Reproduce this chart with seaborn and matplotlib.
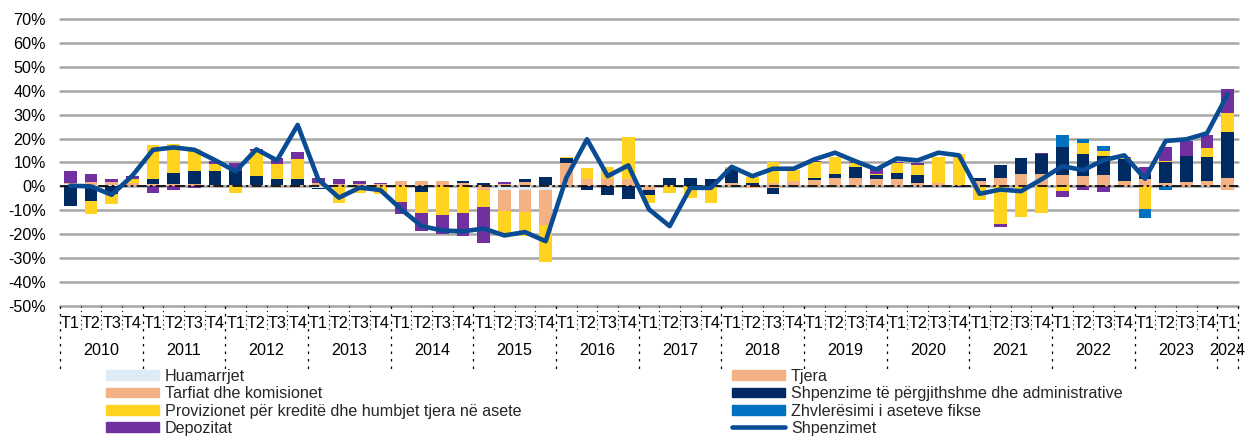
import numpy as np
import pandas as pd
import matplotlib
matplotlib.use("Agg")
import matplotlib.pyplot as plt
import seaborn as sns
from matplotlib.patches import Patch
from matplotlib.lines import Line2D

sns.set_theme(style="white")
plt.rcParams["font.family"] = ["Liberation Sans", "DejaVu Sans"]
plt.rcParams["axes.unicode_minus"] = False

years = ["2010", "2011", "2012", "2013", "2014", "2015", "2016", "2017",
         "2018", "2019", "2020", "2021", "2022", "2023", "2024"]
quarters = ["T1", "T2", "T3", "T4"]

# contributions (percentage points), 2010 T1 ... 2024 T1
huamarrjet = [1.2, 0.5, 0.8, 0, 0, 0, 0, 0, 0, 0, 0, 0,
              -0.5, 0, 0, 0, 0, 0, 0, 0, 0, -1.3, -1.3, -1.3,
              0, 0, 0, 0, 0, 0, 0, 0, 0, 0, 0, 0,
              0, 0, 0, 0, 0, 0, 0, 0, 0, 0, 0, 0,
              0, 0, 0, 0, 0, 0, 0, 0, 0]
tjera = [0.3, 1.5, 1.0, 1.4, 1.0, 1.0, 1.2, 0.8, 0.6, 0.8, 0.6, 0.5,
         1.5, 1.2, 1.2, 1.0, 2.4, 2.2, 2.2, 1.5, 0.8, 1.0, 2.0, 0.8,
         9.7, 3.2, 3.2, 3.2, 0.0, 0.4, 0.3, 0.3, 1.5, 0.8, 1.3, 2.2,
         2.5, 3.6, 3.6, 3.2, 2.9, 1.5, 1.3, 0.4, 2.2, 3.6, 5.0, 5.3,
         4.6, 4.3, 4.6, 2.2, 3.2, 1.5, 1.8, 2.2, 3.6]
tarifat = [0, 0, 0, 0, 0, 0, 0, 0, 0, 0, 0, 0,
           0, 0, 0, 0, 0, 0, 0, 0, -1.5, -9.0, -9.4, -14.9,
           0, 0, 0, 0, -1.5, 0, 0, 0, 0, -0.6, -0.5, 0,
           0, 0, 0, 0, 0, 0, 0, 0, 0, 0, 0, 0,
           0, 0, 0, 0, 0, 0, 0, 0, -1.5]
administrative = [-8.0, -5.9, -3.0, 0, 2.1, 4.6, 5.2, 5.5, 5.7, 3.5, 2.7, 2.8,
                  -0.5, 0, 0, 0, 0, -2.3, 0, 0.8, 0.6, 0, 1.0, 3.2,
                  2.1, -1.5, -3.6, -5.4, -2.1, 3.2, 3.3, 2.6, 5.6, 0.7, -2.8, 0,
                  1.1, 1.7, 4.6, 1.4, 2.8, 3.1, 0, -0.4, 1.4, 5.2, 6.7, 8.2,
                  12.0, 9.1, 8.1, 9.1, 1.4, 8.7, 10.9, 10.1, 19.1]
provizionet = [0, -5.5, -4.2, 1.8, 14.1, 12.1, 9.4, 3.0, -2.7, 10.5, 5.9, 8.0,
               0, -6.8, -2.6, -3.0, -6.6, -9.0, -12.0, -11.3, -7.3, -10.5, -10.1, -15.5,
               0.4, 4.3, 4.9, 17.3, -3.5, -2.6, -4.7, -7.1, 1.1, 2.5, 8.9, 4.6,
               6.7, 7.0, 1.4, 0.7, 3.9, 4.3, 11.1, 13.1, -5.7, -15.9, -12.7, -11.3,
               -2.0, 4.6, 2.3, 0.6, -9.6, 0.4, 0, 3.9, 8.1]
zhvleresimi = [0, 0, 0, 0, 0, 0, 0, 0, 0, 0, 0, 0,
               0, 0, 0, 0, 0, 0, 0, 0, 0, 0, 0, 0,
               0, 0, 0, 0, 0, 0, 0, 0, 0, 0, 0, 0,
               0, 0, 0, 0, 0, 0, 0, 0, 0, 0, 0, 0,
               4.7, 2.0, 1.9, 0, -3.6, -1.5, 0, 0, 0]
depozitat = [4.9, 3.3, 1.4, 1.0, -2.7, -1.7, -0.5, 1.2, 3.5, 1.0, 2.8, 3.2,
             2.1, 1.7, 1.2, 0.3, -5.1, -7.4, -8.0, -9.5, -14.8, 1.0, 0, 0,
             0, 0, 0, 0, 0, 0, 0, 0, 0, 0, 0, 0,
             0.5, 0, 0.4, 2.5, 0.5, 1.0, 0, 0, 0, -1.1, 0, 0.5,
             -2.6, -1.5, -2.4, 0.5, 3.6, 6.0, 6.3, 5.3, 9.8]
# total annual growth of expenses (%)
shpenzimet = [0.3, 0.0, -3.5, 4.5, 15.3, 16.3, 15.3, 11.0, 6.3, 15.5, 10.9, 25.7,
              2.9, -4.7, -0.5, -1.5, -9.5, -16.6, -18.4, -18.8, -17.6, -20.5, -19.1, -22.9,
              3.6, 19.7, 4.3, 8.8, -9.6, -16.6, -0.6, -0.6, 8.2, 4.3, 7.4, 7.4,
              11.3, 14.1, 10.5, 7.1, 11.7, 10.9, 14.1, 13.0, -3.1, -1.3, -2.0, 3.0,
              8.5, 6.8, 11.0, 13.0, 3.2, 19.0, 19.7, 22.2, 38.5]

names = {
    "hua": "Huamarrjet",
    "tar": "Tarfiat dhe komisionet",
    "pro": "Provizionet për kreditë dhe humbjet tjera në asete",
    "dep": "Depozitat",
    "tje": "Tjera",
    "adm": "Shpenzime të përgjithshme dhe administrative",
    "zhv": "Zhvlerësimi i aseteve fikse",
    "tot": "Shpenzimet",
}
colors = {"hua": "#DDEBF7", "tar": "#F4B183", "pro": "#FFD320", "dep": "#7030A0",
          "tje": "#F4B183", "adm": "#002A62", "zhv": "#0070C0", "tot": "#0A4C94"}

df = pd.DataFrame({"hua": huamarrjet, "tje": tjera, "tar": tarifat, "adm": administrative,
                   "pro": provizionet, "zhv": zhvleresimi, "dep": depozitat})
n = len(df)
x = np.arange(n)
qlabels = [quarters[i % 4] for i in range(n)]
fs = 11.6

fig = plt.figure(figsize=(12.49, 4.4), dpi=100)
ax = fig.add_axes([60/1249, 1-306/440, 1178/1249, 287/440])

pos = np.zeros(n)
neg = np.zeros(n)
for key in ["hua", "tje", "tar", "adm", "pro", "zhv", "dep"]:
    v = df[key].to_numpy()
    bottom = np.where(v >= 0, pos, neg)
    ax.bar(x, v, width=0.6, bottom=bottom, color=colors[key], linewidth=0, zorder=2)
    pos += np.clip(v, 0, None)
    neg += np.clip(v, None, 0)

ax.axhline(0, color="black", lw=1.2, ls=(0, (6, 2, 1.5, 2)), zorder=3)
sns.lineplot(x=x, y=shpenzimet, ax=ax, color=colors["tot"], lw=3.3, zorder=5, legend=False)

ax.set_xlim(-0.5, n - 0.5)
ax.set_ylim(-50, 70)
ax.set_yticks(range(-50, 71, 10))
ax.set_yticklabels([f"{v}%" for v in range(-50, 71, 10)], fontsize=fs, color="black")
ax.grid(axis="y", color="#A6A6A6", lw=1.8)
ax.grid(axis="x", visible=False)
for gl in ax.get_ygridlines():
    gl.set_clip_on(False)
ax.set_axisbelow(True)
for s in ax.spines.values():
    s.set_visible(False)
ax.tick_params(axis="y", length=0, pad=10)

ax.set_xticks(np.arange(-0.5, n, 1.0))
ax.set_xticklabels([])
ax.tick_params(axis="x", which="major", length=6, width=1, color="black", direction="out")
ax.set_xticks(x, minor=True)
ax.set_xticklabels(qlabels, minor=True, fontsize=fs, color="black")
ax.tick_params(axis="x", which="minor", length=0, pad=7)

tr = ax.get_xaxis_transform()
for b in np.arange(-0.5, n, 1.0):
    if (b + 0.5) % 4 == 0 or b == n - 0.5:
        ax.plot([b, b], [0, -0.23], transform=tr, color="black", lw=0.9,
                ls=(0, (2, 4)), clip_on=False)
    else:
        ax.plot([b, b], [0, -0.09], transform=tr, color="black", lw=0.8,
                ls=(0, (1, 3)), clip_on=False)
for k, yr in enumerate(years):
    cx = 4 * k + 1.5 if yr != "2024" else 4 * k
    ax.text(cx, -0.155, yr, transform=tr, ha="center", va="center", fontsize=fs, color="black")

h_left = [Patch(color=colors[k], label=names[k]) for k in ["hua", "tar", "pro", "dep"]]
h_right = [Patch(color=colors[k], label=names[k]) for k in ["tje", "adm", "zhv"]]
h_right.append(Line2D([0], [0], color=colors["tot"], lw=3.3, label=names["tot"]))
opts = dict(loc="upper left", frameon=False, fontsize=fs, borderpad=0, borderaxespad=0,
            handlelength=3.3, handleheight=0.55, handletextpad=0.35, labelspacing=0.14)
fig.legend(handles=h_left, bbox_to_anchor=(106/1249, 1-369/440), **opts)
fig.legend(handles=h_right, bbox_to_anchor=(732/1249, 1-369/440), **opts)

fig.savefig("out.png", dpi=100)
